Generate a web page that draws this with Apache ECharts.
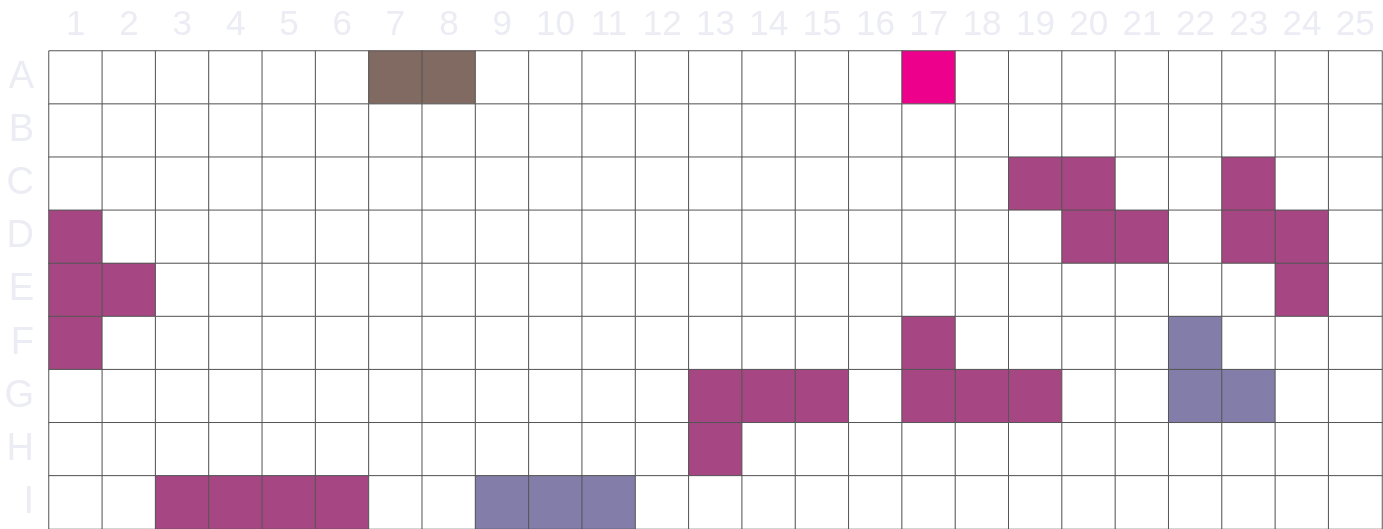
<!DOCTYPE html>
<html><head><meta charset="utf-8">
<script src="https://cdn.jsdelivr.net/npm/echarts@6/dist/echarts.min.js"></script>
<style>html,body{margin:0;padding:0;background:#fff;}#c{width:1383px;height:529px;}</style>
</head><body><div id="c"></div>
<script>
const columns = ['1','2','3','4','5','6','7','8','9','10','11','12','13','14','15','16','17','18','19','20','21','22','23','24','25'];
const rows = ['A','B','C','D','E','F','G','H','I'];
// group index: 1 brown, 2 pink, 3 purple, 4 lavender
const brownCells = ['A7','A8'];
const pinkCells = ['A17'];
const purpleCells = ['C19','C20','C23','D1','D20','D21','D23','D24','E1','E2','E24','F1','F17','G13','G14','G15','G17','G18','G19','H13','I3','I4','I5','I6'];
const lavenderCells = ['F22','G22','G23','I9','I10','I11'];
const groupColors = ['#ffffff','#806a62','#ec008c','#a64783','#837ea9'];

const groupOf = {};
[brownCells,pinkCells,purpleCells,lavenderCells].forEach((arr,gi)=>arr.forEach(c=>groupOf[c]=gi+1));
const data = [];
rows.forEach((r,ri)=>columns.forEach((col,ci)=>{
  data.push({value:[ci,ri,groupOf[r+col]||0], itemStyle:{color:groupColors[groupOf[r+col]||0]}});
}));

const chart = echarts.init(document.getElementById('c'));
chart.setOption({
  animation:false,
  grid:{left:49,top:51,width:1333,height:480},
  xAxis:{type:'category',data:columns,position:'top',axisLine:{show:false},axisTick:{show:false},
    splitLine:{show:false},axisLabel:{color:'#ececf4',fontSize:35,fontFamily:'Liberation Sans',margin:8}},
  yAxis:{type:'category',data:rows,inverse:true,axisLine:{show:false},axisTick:{show:false},
    splitLine:{show:false},axisLabel:{color:'#ececf4',fontSize:38,fontFamily:'Liberation Sans',margin:15}},
  series:[{type:'heatmap',data:data,itemStyle:{borderColor:'#555',borderWidth:1},emphasis:{disabled:true}}]
});
</script></body></html>
